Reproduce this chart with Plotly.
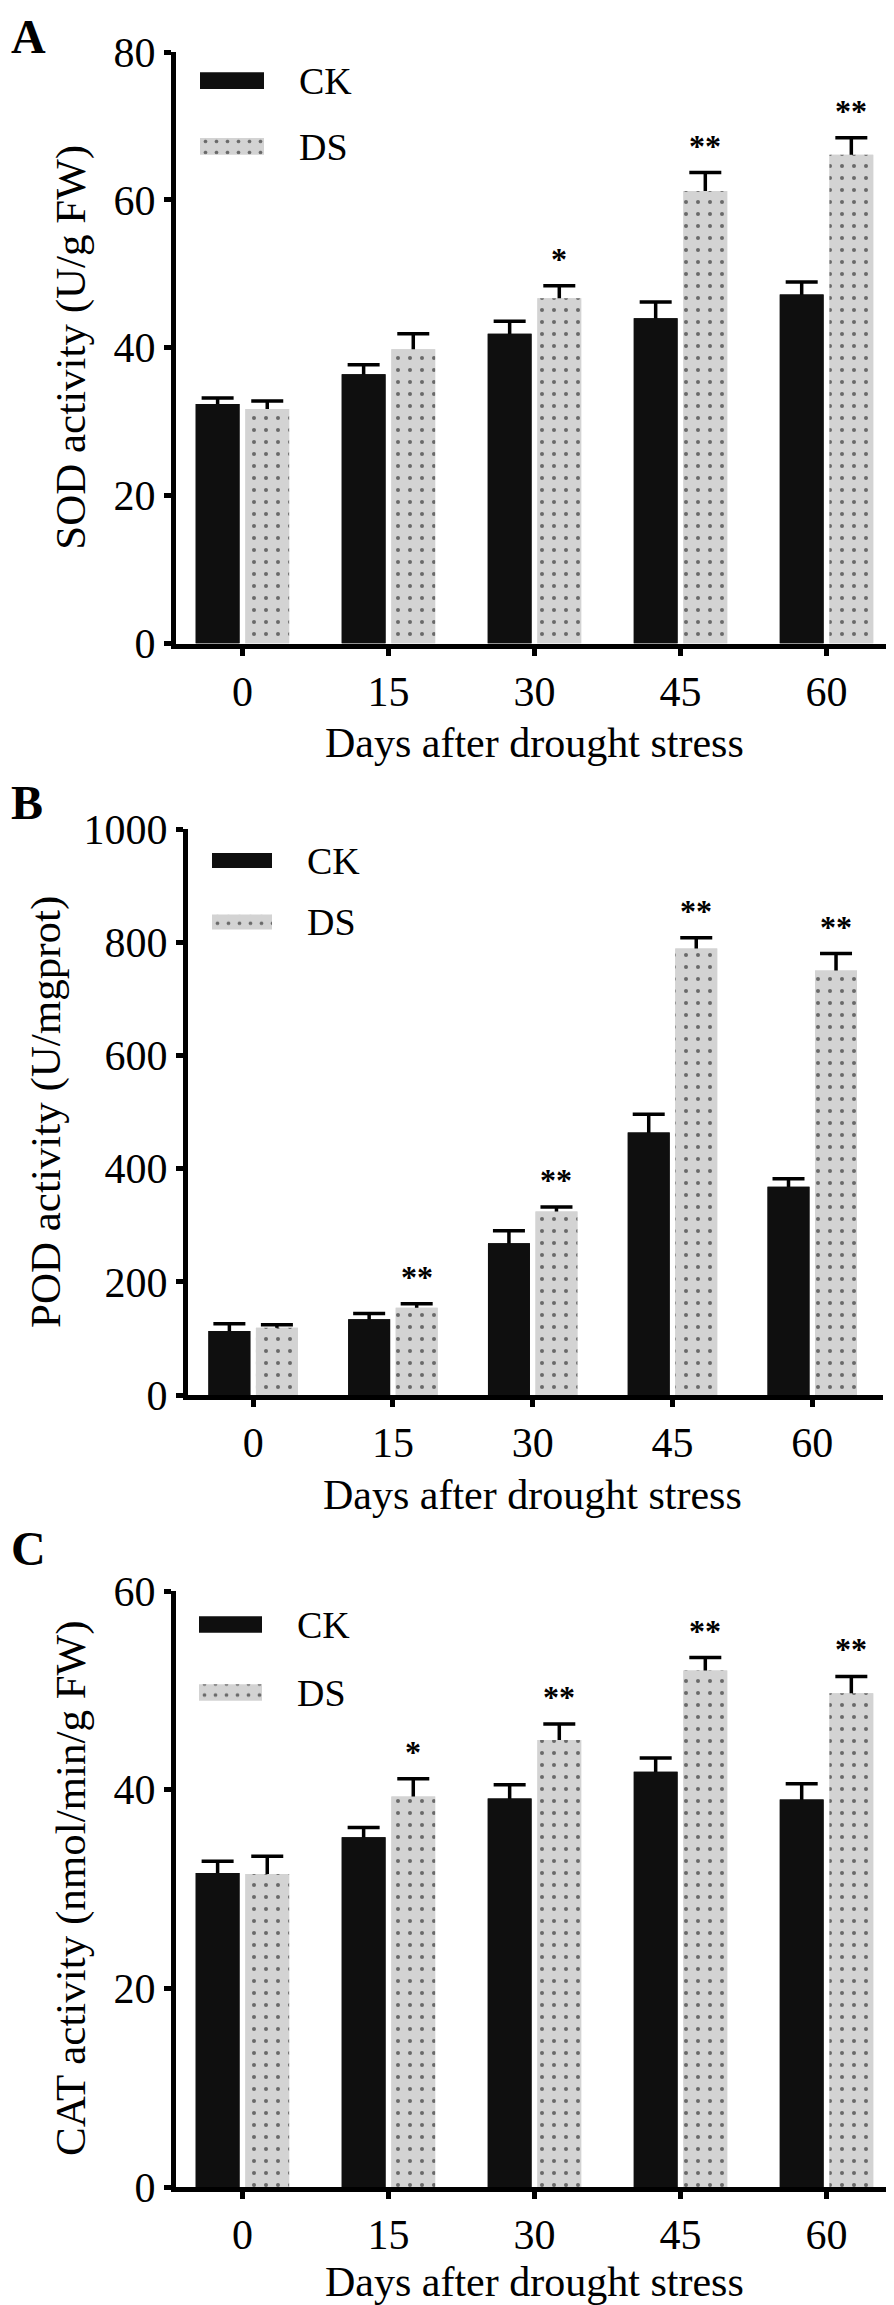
import plotly.graph_objects as go

W, H = 894, 2305

days = ["0", "15", "30", "45", "60"]
series_names = ["CK", "DS"]
x_title = "Days after drought stress"

sod_ck = [32.4, 36.4, 41.9, 44.0, 47.2]
sod_ck_err = [0.8, 1.3, 1.7, 2.2, 1.7]
sod_ds = [31.7, 39.8, 46.7, 61.2, 66.1]
sod_ds_err = [1.1, 2.1, 1.7, 2.5, 2.3]
sod_sig = ["", "", "*", "**", "**"]

pod_ck = [113, 134, 268, 464, 368]
pod_ck_err = [13, 10, 22, 32, 14]
pod_ds = [119, 154, 324, 789, 750]
pod_ds_err = [5, 7, 8, 19, 30]
pod_sig = ["", "**", "**", "**", "**"]

cat_ck = [31.6, 35.2, 39.1, 41.8, 39.0]
cat_ck_err = [1.2, 1.0, 1.4, 1.4, 1.6]
cat_ds = [31.5, 39.3, 45.0, 52.0, 49.7]
cat_ds_err = [1.8, 1.8, 1.6, 1.3, 1.7]
cat_sig = ["", "*", "**", "**", "**"]

FONT = "Liberation Serif"
CK_COLOR = "#0f0f0f"
DS_COLOR = "#d3d3d3"
DOT = dict(shape=".", fgcolor="black", bgcolor=DS_COLOR, size=12, solidity=0.09)


def fx(p):
    return p / W


def fy(p):
    return 1 - p / H


panels = [
    dict(letter="A", ytitle="SOD activity (U/g FW)", ck=sod_ck, ck_err=sod_ck_err, ds=sod_ds, ds_err=sod_ds_err,
         sig=sod_sig, box=(168, 894, 44, 635.5), xr=[-0.455, 4.517], yr=[0, 80], dtick=20,
         letter_y=0, ytitle_x=63, xtitle_gap=100, leg=(192, 256, 72.7, 138.3, 16.7)),
    dict(letter="B", ytitle="POD activity (U/mgprot)", ck=pod_ck, ck_err=pod_ck_err, ds=pod_ds, ds_err=pod_ds_err,
         sig=pod_sig, box=(180, 875, 821, 1387), xr=[-0.466, 4.506], yr=[0, 1000], dtick=200,
         letter_y=766, ytitle_x=38, xtitle_gap=100, leg=(204, 264, 852.5, 914, 15)),
    dict(letter="C", ytitle="CAT activity (nmol/min/g FW)", ck=cat_ck, ck_err=cat_ck_err, ds=cat_ds, ds_err=cat_ds_err,
         sig=cat_sig, box=(168, 894, 1583, 2179), xr=[-0.455, 4.517], yr=[0, 60], dtick=20,
         letter_y=1512, ytitle_x=63, xtitle_gap=95, leg=(191, 254, 1616.5, 1684.5, 16.5)),
]

CK_OFF, DS_OFF, BW = -0.32, 0.02, 0.30
xi = list(range(len(days)))

fig = go.Figure()
annotations = []
layout = dict(
    width=W, height=H, margin=dict(l=0, r=0, t=0, b=0, pad=0),
    paper_bgcolor="white", plot_bgcolor="white",
    barmode="overlay", showlegend=False,
    font=dict(family=FONT, color="black"),
)

for k, p in enumerate(panels):
    n = k + 1
    sfx = "" if n == 1 else str(n)
    xa, ya = "x" + sfx, "y" + sfx
    for vals, errs, off, color, pat in [
        (p["ck"], p["ck_err"], CK_OFF, CK_COLOR, None),
        (p["ds"], p["ds_err"], DS_OFF, DS_COLOR, DOT),
    ]:
        # bar carrying the error bar, then the same bar drawn again on top so only the upper whisker shows
        fig.add_trace(go.Bar(
            x=xi, y=vals, offset=off, width=BW, xaxis=xa, yaxis=ya,
            marker=dict(color=color, line=dict(width=0)),
            error_y=dict(type="data", array=errs, visible=True, color="black", thickness=3.5, width=16),
            hoverinfo="skip"))
        m = dict(color=color, line=dict(width=0))
        if pat:
            m["pattern"] = pat
        fig.add_trace(go.Bar(x=xi, y=vals, offset=off, width=BW, xaxis=xa, yaxis=ya, marker=m))

    x0, x1, y0, y1 = p["box"]
    layout["xaxis" + sfx] = dict(
        domain=[fx(x0), fx(x1)], anchor=ya, range=p["xr"], automargin=False,
        tickmode="array", tickvals=xi, ticktext=days,
        showline=True, linewidth=5, linecolor="black", ticks="outside", ticklen=7, tickwidth=5,
        tickcolor="black", tickfont=dict(size=42, family=FONT), showgrid=False, zeroline=False)
    layout["yaxis" + sfx] = dict(
        domain=[fy(y1), fy(y0)], anchor=xa, range=p["yr"], dtick=p["dtick"], automargin=False,
        showline=True, linewidth=5, linecolor="black", ticks="outside", ticklen=7, tickwidth=5,
        tickcolor="black", tickfont=dict(size=42, family=FONT), showgrid=False, zeroline=False)

    # axis titles
    annotations.append(dict(
        x=fx(p["ytitle_x"]), y=fy((y0 + y1) / 2), xref="paper", yref="paper", text=p["ytitle"],
        textangle=-90, showarrow=False, xanchor="center", yanchor="middle",
        font=dict(size=43, family=FONT, color="black")))
    annotations.append(dict(
        x=xi[2], y=fy(y1 + p["xtitle_gap"]), xref=xa, yref="paper", text=x_title,
        showarrow=False, xanchor="center", yanchor="middle",
        font=dict(size=42, family=FONT, color="black")))

    for i, s in enumerate(p["sig"]):
        if s:
            annotations.append(dict(
                x=xi[i] + DS_OFF + BW / 2, y=p["ds"][i] + p["ds_err"][i], xref=xa, yref=ya,
                text=f"<b>{s}</b>", showarrow=False, yanchor="middle", xanchor="center", yshift=27,
                font=dict(size=32, family=FONT, color="black")))

    annotations.append(dict(
        x=fx(1), y=fy(p["letter_y"]), xref="paper", yref="paper", text=f"<b>{p['letter']}</b>",
        showarrow=False, xanchor="left", yanchor="top", font=dict(size=48, family=FONT, color="black")))

    # legend swatches drawn on a small dedicated axis pair
    ln = n + 3
    lx0, lx1, cy_ck, cy_ds, hgt = p["leg"]
    gap = cy_ds - cy_ck
    fig.add_trace(go.Bar(y=[0], x=[1], orientation="h", width=hgt / gap, xaxis=f"x{ln}", yaxis=f"y{ln}",
                         marker=dict(color=CK_COLOR, line=dict(width=0))))
    fig.add_trace(go.Bar(y=[1], x=[1], orientation="h", width=hgt / gap, xaxis=f"x{ln}", yaxis=f"y{ln}",
                         marker=dict(color=DS_COLOR, line=dict(width=0), pattern=dict(DOT, size=11))))
    layout[f"xaxis{ln}"] = dict(domain=[fx(lx0), fx(lx1)], anchor=f"y{ln}", range=[0, 1],
                                visible=False, automargin=False)
    layout[f"yaxis{ln}"] = dict(
        domain=[fy(cy_ds + gap / 2), fy(cy_ck - gap / 2)], anchor=f"x{ln}", range=[1.5, -0.5],
        tickmode="array", tickvals=[0, 1], ticktext=series_names, side="right", automargin=False,
        showline=False, showgrid=False, zeroline=False, ticks="",
        tickfont=dict(size=38, family=FONT), ticklabelstandoff=34)

layout["annotations"] = annotations
fig.update_layout(**layout)
fig.write_html("out.html")
